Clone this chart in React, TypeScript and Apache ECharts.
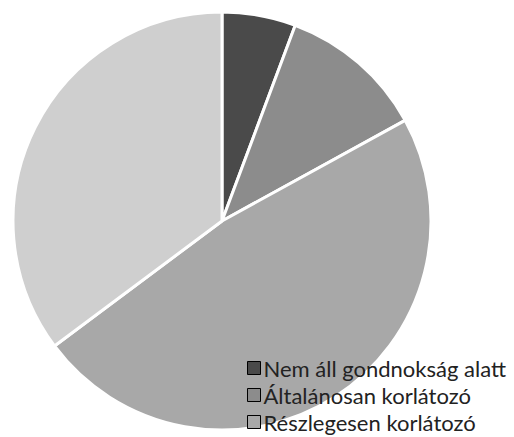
import React, { useEffect, useRef } from "react";
import * as echarts from "echarts";

const categories = [
  "Nem áll gondnokság alatt",
  "Általánosan korlátozó",
  "Részlegesen korlátozó",
  "Egyéb",
];
const values = [5.7, 11.3, 47.8, 35.2];
const colors = ["#4a4a4a", "#8c8c8c", "#a8a8a8", "#cfcfcf"];
const legendNames = categories.slice(0, 3);

export default function App() {
  const ref = useRef<HTMLDivElement>(null);
  useEffect(() => {
    if (!ref.current) return;
    const chart = echarts.init(ref.current, null, { renderer: "svg" });
    chart.setOption({
      animation: false,
      backgroundColor: "#ffffff",
      legend: {
        data: legendNames,
        orient: "vertical",
        left: 242,
        top: 352,
        height: 120,
        width: 300,
        itemWidth: 13,
        itemHeight: 13,
        itemGap: 5,
        icon: "rect",
        itemStyle: { borderColor: "#000", borderWidth: 1 },
        textStyle: {
          fontFamily: "Lato",
          fontSize: 22,
          color: "#222",
          padding: [0, 0, 0, -2],
          lineHeight: 21.5,
        },
      },
      series: [
        {
          type: "pie",
          center: [222, 221],
          radius: 209,
          startAngle: 90,
          clockwise: true,
          label: { show: false },
          labelLine: { show: false },
          itemStyle: { borderColor: "#ffffff", borderWidth: 3 },
          emphasis: { disabled: true },
          data: categories.map((name, i) => ({
            name,
            value: values[i],
            itemStyle: { color: colors[i] },
          })),
        },
      ],
    });
    return () => chart.dispose();
  }, []);
  return (
    <div
      ref={ref}
      style={{ position: "absolute", left: 0, top: 0, width: 514, height: 437 }}
    />
  );
}
